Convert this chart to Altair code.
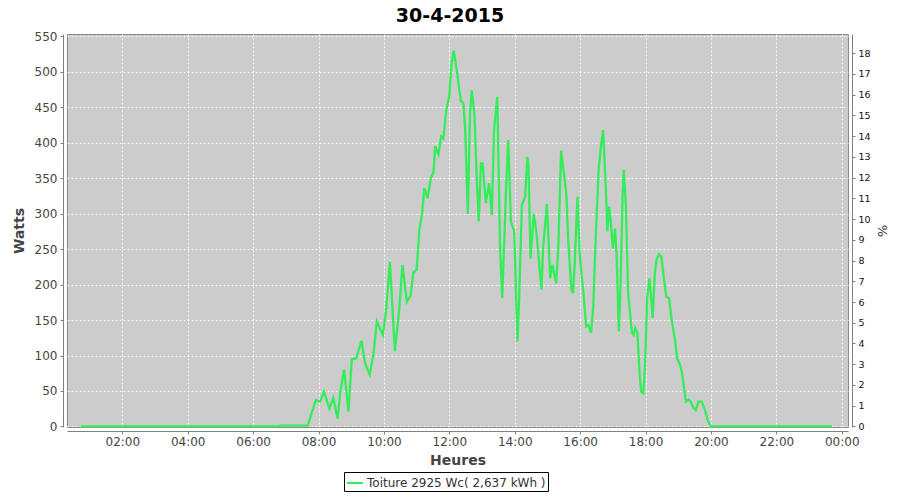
import altair as alt
import pandas as pd

# ---- data ----
heures = [
    "00:44", "01:30", "02:30", "03:30", "04:30", "05:30", "06:30", "06:45", "06:50", "07:10",
    "07:25", "07:40", "07:55", "08:03", "08:10", "08:20", "08:27", "08:35", "08:40", "08:47",
    "08:55", "09:01", "09:09", "09:19", "09:25", "09:34", "09:41", "09:47", "09:58", "10:04",
    "10:11", "10:20", "10:28", "10:34", "10:42", "10:49", "10:54", "11:00", "11:05", "11:10",
    "11:14", "11:20", "11:26", "11:31", "11:34", "11:40", "11:45", "11:49", "11:54", "12:00",
    "12:04", "12:08", "12:14", "12:21", "12:26", "12:29", "12:34", "12:38", "12:41", "12:46",
    "12:50", "12:54", "12:58", "13:01", "13:07", "13:13", "13:18", "13:22", "13:28", "13:33",
    "13:37", "13:44", "13:48", "13:53", "13:59", "14:05", "14:08", "14:13", "14:19", "14:23",
    "14:25", "14:29", "14:35", "14:40", "14:49", "14:52", "14:59", "15:05", "15:09", "15:16",
    "15:20", "15:25", "15:31", "15:35", "15:38", "15:44", "15:47", "15:50", "15:55", "15:59",
    "16:06", "16:11", "16:15", "16:20", "16:24", "16:29", "16:34", "16:38", "16:42", "16:47",
    "16:50", "16:53", "16:56", "17:00", "17:04", "17:07", "17:11", "17:14", "17:18", "17:20",
    "17:24", "17:28", "17:35", "17:38", "17:41", "17:45", "17:49", "17:52", "17:56", "17:59",
    "18:03", "18:07", "18:10", "18:13", "18:17", "18:20", "18:25", "18:29", "18:34", "18:38",
    "18:43", "18:48", "18:54", "18:58", "19:04", "19:07", "19:11", "19:14", "19:19", "19:23",
    "19:28", "19:32", "19:37", "19:43", "19:49", "19:55", "20:00", "21:00", "22:00", "23:00",
    "23:42",
]
watts = [
    0, 0, 0, 0, 0, 0, 0, 0, 1, 1,
    1, 1, 37, 35, 49, 25, 40, 11, 49, 80,
    21, 95, 96, 121, 90, 73, 103, 148, 129, 164,
    232, 106, 164, 228, 176, 185, 217, 221, 277, 300,
    336, 322, 350, 359, 395, 384, 409, 406, 444, 467,
    512, 530, 500, 460, 455, 420, 300, 441, 474, 441,
    357, 289, 371, 371, 315, 343, 298, 418, 465, 254,
    181, 333, 404, 289, 275, 120, 178, 312, 324, 380,
    371, 237, 300, 272, 193, 251, 314, 209, 228, 202,
    254, 389, 352, 324, 263, 193, 188, 230, 324, 244,
    188, 141, 143, 132, 169, 277, 362, 394, 418, 338,
    275, 310, 291, 251, 279, 239, 134, 197, 329, 362,
    310, 188, 132, 129, 139, 132, 75, 49, 47, 85,
    181, 209, 185, 153, 216, 235, 243, 239, 207, 183,
    181, 150, 122, 96, 85, 75, 52, 35, 38, 35,
    26, 23, 35, 35, 23, 7, 0, 0, 0, 0,
    0,
]
puissance_crete = 2925
serie = "Toiture 2925 Wc( 2,637 kWh )"
titre = "30-4-2015"
ticks_heures = [2, 4, 6, 8, 10, 12, 14, 16, 18, 20, 22, 24]
ticks_watts = [0, 50, 100, 150, 200, 250, 300, 350, 400, 450, 500, 550]
ticks_pct = list(range(0, 19))

GREEN = "#33EE5A"
FONT = "DejaVu Sans"


def to_h(s):
    hh, mm = s.split(":")
    return int(hh) + int(mm) / 60.0


df = pd.DataFrame({"h": [to_h(t) for t in heures], "w": watts})
df["pct"] = df["w"] / puissance_crete * 100
df["serie"] = serie

x_dom = [0.309, 24.19]
y_dom = [-0.8, 553.5]
pct_dom = [v / puissance_crete * 100 for v in y_dom]

x_axis = alt.Axis(
    values=ticks_heures,
    labelExpr="(datum.value % 24 < 10 ? '0' : '') + (datum.value % 24) + ':00'",
    title="Heures",
    offset=4,
    tickSize=3,
    labelPadding=2,
    titlePadding=6,
    labelFontSize=12,
    labelColor="#444444",
    titleFontSize=14,
    titleColor="#444444",
    titleFontWeight="bold",
    domainColor="#808080",
    tickColor="#808080",
    grid=True,
    gridColor="white",
    gridDash=[2, 2],
    gridOpacity=0.85,
    labelFlush=False,
)
x_scale = alt.Scale(domain=x_dom, nice=False, zero=False)

base = alt.Chart(df)

line = base.mark_line(strokeWidth=2.3, interpolate="linear").encode(
    x=alt.X("h:Q", scale=x_scale, axis=x_axis),
    y=alt.Y(
        "w:Q",
        scale=alt.Scale(domain=y_dom, nice=False, zero=False),
        axis=alt.Axis(
            values=ticks_watts,
            title="Watts",
            offset=4,
            tickSize=3,
            labelPadding=3,
            titlePadding=8,
            labelFontSize=12,
            labelColor="#444444",
            titleFontSize=14,
            titleColor="#444444",
            titleFontWeight="bold",
            domainColor="#808080",
            tickColor="#808080",
            grid=True,
            gridColor="white",
            gridDash=[2, 2],
            gridOpacity=0.85,
        ),
    ),
    color=alt.Color(
        "serie:N",
        scale=alt.Scale(domain=[serie], range=[GREEN]),
        legend=alt.Legend(
            title=None,
            orient="none",
            legendX=277,
            legendY=438,
            direction="horizontal",
            symbolType="stroke",
            symbolStrokeWidth=2,
            symbolSize=256,
            labelFontSize=12,
            labelColor="#333333",
            labelFont=FONT,
            labelOffset=3,
            labelLimit=400,
            padding=2,
            strokeColor="black",
            fillColor="white",
            cornerRadius=0,
        ),
    ),
)

pct = base.mark_line(opacity=0).encode(
    x=alt.X("h:Q", scale=x_scale, axis=x_axis),
    y=alt.Y(
        "pct:Q",
        scale=alt.Scale(domain=pct_dom, nice=False, zero=False),
        axis=alt.Axis(
            orient="right",
            values=ticks_pct,
            title="%",
            offset=4,
            tickSize=3,
            labelPadding=3,
            titlePadding=4,
            labelFontSize=9.5,
            labelColor="#111111",
            titleFontSize=13,
            titleColor="#333333",
            titleFontWeight="normal",
            domainColor="#808080",
            tickColor="#808080",
            grid=False,
        ),
    ),
)

chart = (
    alt.layer(line, pct)
    .resolve_scale(y="independent")
    .properties(
        width=781,
        height=393,
        autosize=alt.AutoSizeParams(type="none"),
        padding={"left": 59, "top": 26, "right": 44, "bottom": 65},
        title=alt.TitleParams(
            titre,
            fontSize=19,
            fontWeight="bold",
            font=FONT,
            color="black",
            anchor="middle",
            offset=4,
            dx=-7.5,
        ),
    )
    .configure(font=FONT)
    .configure_axis(labelFont=FONT, titleFont=FONT)
    .configure_view(fill="#CCCCCC", stroke="#8a8a8a", strokeWidth=1)
)

chart.save("out.html", embed_options={"renderer": "svg", "actions": False})
